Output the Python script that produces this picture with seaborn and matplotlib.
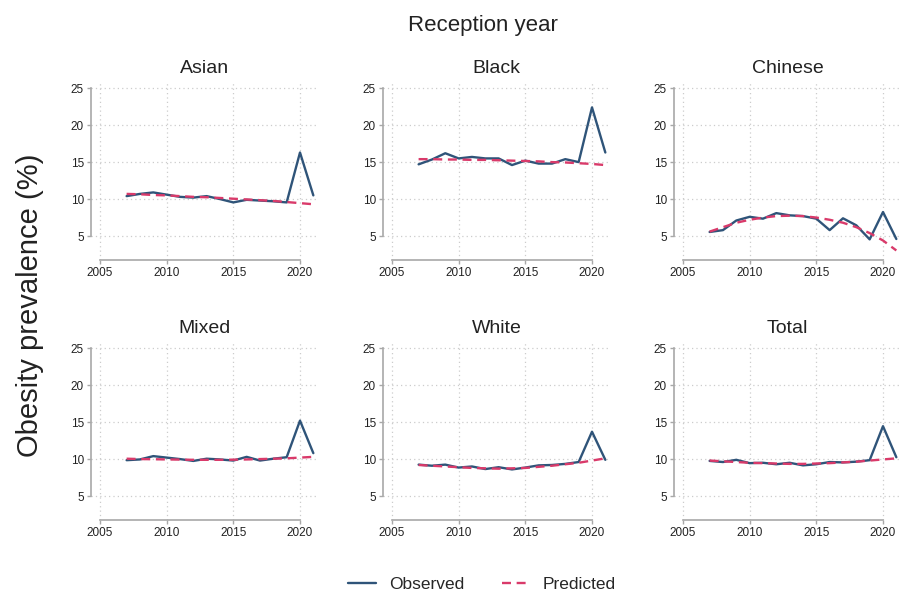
import numpy as np
import pandas as pd
import matplotlib
matplotlib.use("Agg")
import matplotlib.pyplot as plt
import seaborn as sns

years = list(range(2007, 2022))

groups = ["Asian", "Black", "Chinese", "Mixed", "White", "Total"]

asian_obs = [10.4, 10.7, 10.9, 10.6, 10.3, 10.2, 10.4, 10.0, 9.55, 9.9, 9.8, 9.7, 9.55, 16.3, 10.5]
asian_pred = [10.7, 10.65, 10.55, 10.5, 10.4, 10.3, 10.25, 10.15, 10.05, 9.95, 9.85, 9.75, 9.6, 9.45, 9.3]

black_obs = [14.7, 15.35, 16.2, 15.5, 15.7, 15.5, 15.5, 14.6, 15.2, 14.8, 14.8, 15.4, 15.0, 22.4, 16.3]
black_pred = [15.4, 15.4, 15.35, 15.35, 15.3, 15.3, 15.25, 15.2, 15.15, 15.1, 15.0, 14.95, 14.85, 14.75, 14.6]

chinese_obs = [5.55, 5.8, 7.1, 7.6, 7.35, 8.1, 7.8, 7.7, 7.35, 5.8, 7.4, 6.45, 4.55, 8.25, 4.6]
chinese_pred = [5.6, 6.2, 6.8, 7.2, 7.5, 7.7, 7.75, 7.7, 7.5, 7.2, 6.8, 6.2, 5.4, 4.4, 3.05]

mixed_obs = [9.85, 9.95, 10.4, 10.2, 10.0, 9.75, 10.05, 9.95, 9.8, 10.3, 9.8, 10.05, 10.25, 15.2, 10.8]
mixed_pred = [10.05, 10.0, 9.98, 9.95, 9.93, 9.9, 9.9, 9.9, 9.92, 9.95, 10.0, 10.05, 10.1, 10.2, 10.3]

white_obs = [9.25, 9.1, 9.25, 8.85, 9.0, 8.65, 8.9, 8.6, 8.85, 9.15, 9.2, 9.35, 9.6, 13.7, 9.9]
white_pred = [9.2, 9.1, 9.0, 8.9, 8.8, 8.75, 8.7, 8.75, 8.8, 8.95, 9.1, 9.3, 9.5, 9.8, 10.1]

total_obs = [9.75, 9.6, 9.9, 9.45, 9.5, 9.3, 9.5, 9.15, 9.3, 9.6, 9.55, 9.65, 9.85, 14.45, 10.25]
total_pred = [9.8, 9.7, 9.6, 9.5, 9.45, 9.4, 9.35, 9.35, 9.4, 9.45, 9.55, 9.65, 9.8, 9.95, 10.1]

observed = [asian_obs, black_obs, chinese_obs, mixed_obs, white_obs, total_obs]
predicted = [asian_pred, black_pred, chinese_pred, mixed_pred, white_pred, total_pred]

x_ticks = [2005, 2010, 2015, 2020]
y_ticks = [5, 10, 15, 20, 25]

rows = []
for g, obs, pred in zip(groups, observed, predicted):
    for yr, o, p in zip(years, obs, pred):
        rows.append({"group": g, "year": yr, "value": o, "series": "Observed"})
        rows.append({"group": g, "year": yr, "value": p, "series": "Predicted"})
df = pd.DataFrame(rows)

sns.set_style("white")
plt.rcParams["font.family"] = ["Liberation Sans", "DejaVu Sans"]

BLUE = "#2f5479"
RED = "#d93a6a"
AXIS_GRAY = "#a8a8a8"
TEXT = "#222222"

W, H = 909, 593
fig = plt.figure(figsize=(W / 100, H / 100), dpi=100)

col_left = [91, 383, 674]
row_top = [83, 343]
ax_w, ax_h = 227, 177

xlim = (2004.33, 2021.35)
ylim = (1.76, 25.7)

axes = []
for i, g in enumerate(groups):
    r, c = divmod(i, 3)
    left = col_left[c] / W
    bottom = 1 - (row_top[r] + ax_h) / H
    ax = fig.add_axes([left, bottom, ax_w / W, ax_h / H])
    sub = df[df["group"] == g]
    sns.lineplot(
        data=sub, x="year", y="value", hue="series", style="series",
        palette={"Observed": BLUE, "Predicted": RED},
        dashes={"Observed": "", "Predicted": (3.8, 2.4)},
        linewidth=1.7, legend=False, ax=ax,
    )
    ax.set_xlim(*xlim)
    ax.set_ylim(*ylim)
    ax.set_xticks(x_ticks)
    ax.set_yticks(y_ticks)
    ax.set_xticklabels([str(t) for t in x_ticks], fontsize=8.5, color=TEXT)
    ax.set_yticklabels([str(t) for t in y_ticks], fontsize=8.5, color=TEXT)
    ax.set_xlabel("")
    ax.set_ylabel("")
    ax.grid(True, linestyle=(0, (1, 2.5)), color="#cccccc", linewidth=0.9)
    ax.set_axisbelow(True)
    for side in ["top", "right"]:
        ax.spines[side].set_visible(False)
    for side in ["left", "bottom"]:
        ax.spines[side].set_visible(True)
        ax.spines[side].set_color(AXIS_GRAY)
        ax.spines[side].set_linewidth(1.2)
    ax.spines["left"].set_bounds(5, 25)
    ax.spines["bottom"].set_bounds(2005, 2020)
    ax.tick_params(axis="both", which="major", length=3, width=1.0,
                   color=AXIS_GRAY, pad=2, direction="out",
                   bottom=True, left=True)
    ax.set_title(g, fontsize=14, color=TEXT, pad=7)
    axes.append(ax)

fig.text(483 / W, 1 - 25 / H, "Reception year", fontsize=16, color=TEXT,
         ha="center", va="center")
fig.text(30 / W, 1 - 305 / H, "Obesity prevalence (%)", fontsize=21,
         color=TEXT, ha="center", va="center", rotation=90)

handles = axes[0].get_lines()[:2]
fig.legend(handles, ["Observed", "Predicted"], loc="center",
           bbox_to_anchor=(482 / W, 1 - 584 / H), ncol=2, frameon=False,
           fontsize=12.5, handlelength=1.6, handletextpad=0.75,
           columnspacing=2.2)

fig.savefig("out.png", dpi=100, facecolor="white")
